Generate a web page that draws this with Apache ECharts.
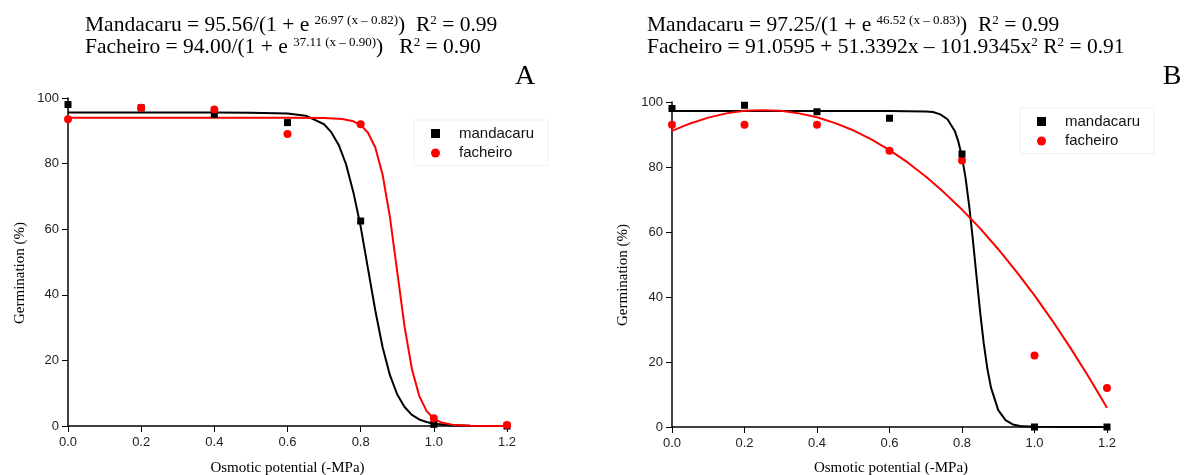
<!DOCTYPE html>
<html>
<head>
<meta charset="utf-8">
<script src="https://cdn.jsdelivr.net/npm/echarts@6/dist/echarts.min.js"></script>
<style>
html,body{margin:0;padding:0;background:#fff;}
#chart{width:1189px;height:475px;}
</style>
</head>
<body>
<div id="chart"></div>
<script>
// ---- observed data points ----
const doseLevels = [0, 0.2, 0.4, 0.6, 0.8, 1.0, 1.2];
const mandacaruA = [98, 97, 95, 92.5, 62.5, 0.5, 0];
const facheiroA = [93.5, 97, 96.5, 89, 92, 2.4, 0.3];
const mandacaruB = [98, 99, 97, 95, 84, 0, 0];
const facheiroB = [93, 93, 93, 85, 82, 22, 12];

// ---- fitted curves ----
const fitMandA_x = [0, 0.1, 0.2, 0.3, 0.4, 0.5, 0.6, 0.65, 0.7, 0.72, 0.74, 0.76, 0.78, 0.8, 0.82, 0.84, 0.86, 0.88, 0.9, 0.92, 0.94, 0.96, 0.98, 1.0, 1.05, 1.1, 1.2];
const fitMandA_y = [95.6, 95.6, 95.6, 95.6, 95.6, 95.5, 95.3, 94.6, 92.0, 89.5, 85.7, 79.8, 71.3, 60.8, 48.0, 35.2, 24.0, 15.5, 9.6, 5.8, 3.4, 2.0, 1.2, 0.7, 0.2, 0.05, 0];
const fitFachA_x = [0, 0.2, 0.4, 0.6, 0.7, 0.75, 0.78, 0.8, 0.82, 0.84, 0.86, 0.88, 0.9, 0.92, 0.94, 0.96, 0.98, 1.0, 1.02, 1.05, 1.1, 1.2];
const fitFachA_y = [94.0, 94.0, 94.0, 94.0, 93.9, 93.6, 92.9, 91.8, 89.4, 84.9, 76.6, 63.7, 47.0, 30.3, 17.4, 9.2, 4.6, 2.2, 1.1, 0.4, 0.1, 0];
const fitMandB_x = [0, 0.2, 0.4, 0.6, 0.7, 0.72, 0.74, 0.76, 0.78, 0.79, 0.8, 0.81, 0.82, 0.83, 0.84, 0.85, 0.86, 0.87, 0.88, 0.9, 0.92, 0.94, 0.96, 1.0, 1.2];
const fitMandB_y = [97.2, 97.2, 97.2, 97.2, 97.1, 96.9, 96.2, 94.7, 91.1, 87.8, 83.1, 76.5, 67.9, 57.6, 46.4, 35.4, 25.7, 17.9, 12.1, 5.2, 2.1, 0.8, 0.3, 0.05, 0];
const fitFachB_x = [0, 0.05, 0.1, 0.15, 0.2, 0.25, 0.3, 0.35, 0.4, 0.45, 0.5, 0.55, 0.6, 0.65, 0.7, 0.75, 0.8, 0.85, 0.9, 0.95, 1.0, 1.05, 1.1, 1.15, 1.2];
const fitFachB_y = [91.1, 93.4, 95.2, 96.5, 97.3, 97.5, 97.3, 96.5, 95.3, 93.5, 91.3, 88.5, 85.2, 81.4, 77.1, 72.2, 66.9, 61.1, 54.7, 47.8, 40.5, 32.6, 24.2, 15.3, 5.9];

// ---- texts ----
const xTickValues = [0, 0.2, 0.4, 0.6, 0.8, 1.0, 1.2];
const yTickValues = [0, 20, 40, 60, 80, 100];
const xAxisTitle = 'Osmotic potential (-MPa)';
const yAxisTitle = 'Germination (%)';
const eqA = '{n|Mandacaru = 95.56/(1 + e }{s|26.97 (x – 0.82)}{n|)  R}{s|2}{n| = 0.99}\n{n|Facheiro = 94.00/(1 + e }{s|37.11 (x – 0.90)}{n|)   R}{s|2}{n| = 0.90}';
const eqB = '{n|Mandacaru = 97.25/(1 + e }{s|46.52 (x – 0.83)}{n|)  R}{s|2}{n| = 0.99}\n{n|Facheiro = 91.0595 + 51.3392x – 101.9345x}{s|2}{n| R}{s|2}{n| = 0.91}';
const panelLabels = ['A', 'B'];
const seriesNames = ['mandacaru', 'facheiro'];

const zip = (xs, ys) => xs.map((x, i) => [x, ys[i]]);

const SERIF = '"Liberation Serif", "Times New Roman", serif';
const SANS = '"Liberation Sans", Arial, sans-serif';
const BLACK = '#000000';
const RED = '#ff0000';

const richEq = {
  n: { fontFamily: SERIF, fontSize: 21.5, fontWeight: 'normal', lineHeight: 22, color: '#000', verticalAlign: 'middle' },
  s: { fontFamily: SERIF, fontSize: 13, fontWeight: 'normal', lineHeight: 11, color: '#000', verticalAlign: 'top' }
};

function xAxisCfg(gi) {
  return {
    gridIndex: gi, type: 'value', min: 0, max: 1.2, interval: 0.2,
    axisLine: { show: true, onZero: false, lineStyle: { color: '#000', width: 1.5 } },
    axisTick: { show: true, length: 6, lineStyle: { color: '#000', width: 1 } },
    axisLabel: { margin: 10, color: '#222', fontFamily: SANS, fontSize: 13,
      formatter: v => xTickValues.some(t => Math.abs(t - v) < 1e-6) ? v.toFixed(1) : '' },
    splitLine: { show: false }
  };
}
function yAxisCfg(gi) {
  return {
    gridIndex: gi, type: 'value', min: 0, max: 100, interval: 20,
    axisLine: { show: true, onZero: false, lineStyle: { color: '#000', width: 1.5 } },
    axisTick: { show: true, length: 6, lineStyle: { color: '#000', width: 1 } },
    axisLabel: { margin: 9, color: '#222', fontFamily: SANS, fontSize: 13,
      formatter: v => yTickValues.includes(v) ? String(v) : '' },
    splitLine: { show: false }
  };
}
function lineSeries(name, gi, data, color) {
  return { name, type: 'line', xAxisIndex: gi, yAxisIndex: gi, data, showSymbol: false,
    smooth: false, lineStyle: { color, width: 2, opacity: 1 }, itemStyle: { color, opacity: 1 },
    emphasis: { disabled: true }, z: 2, silent: true };
}
function scatterSeries(name, gi, data, color, symbol, size, z) {
  return { name, type: 'scatter', xAxisIndex: gi, yAxisIndex: gi, data, symbol, symbolSize: size,
    itemStyle: { color, opacity: 1 }, emphasis: { disabled: true }, z, silent: true };
}
function legendCfg(left, top) {
  return {
    orient: 'vertical', left, top,
    data: [{ name: seriesNames[0], icon: 'rect' }, { name: seriesNames[1], icon: 'circle' }],
    itemWidth: 9, itemHeight: 9, itemGap: 4.5,
    borderColor: '#f0f0f0', borderWidth: 1, padding: [6, 14, 5, 17],
    textStyle: { fontFamily: SANS, fontSize: 15, color: '#111', padding: [0, 0, 0, 14] },
    selectedMode: false
  };
}

const option = {
  animation: false,
  backgroundColor: '#ffffff',
  title: [
    { text: eqA, left: 85, top: 14, padding: 0, textStyle: { fontWeight: 'normal', rich: richEq } },
    { text: eqB, left: 647, top: 14, padding: 0, textStyle: { fontWeight: 'normal', rich: richEq } }
  ],
  grid: [
    { left: 68, top: 98, width: 439, height: 328 },
    { left: 672, top: 102, width: 435, height: 325 }
  ],
  xAxis: [xAxisCfg(0), xAxisCfg(1)],
  yAxis: [yAxisCfg(0), yAxisCfg(1)],
  legend: [legendCfg(414, 120), legendCfg(1020, 108)],
  graphic: [
    { type: 'text', x: 525, y: 77, style: { text: panelLabels[0], font: '28px ' + SERIF, fill: '#000', textAlign: 'center', textVerticalAlign: 'middle' } },
    { type: 'text', x: 1172, y: 77, style: { text: panelLabels[1], font: '28px ' + SERIF, fill: '#000', textAlign: 'center', textVerticalAlign: 'middle' } },
    { type: 'text', x: 287.5, y: 468, style: { text: xAxisTitle, font: '15px ' + SERIF, fill: '#000', textAlign: 'center', textVerticalAlign: 'middle' } },
    { type: 'text', x: 891, y: 468, style: { text: xAxisTitle, font: '15px ' + SERIF, fill: '#000', textAlign: 'center', textVerticalAlign: 'middle' } },
    { type: 'text', x: 20, y: 273, rotation: Math.PI / 2, style: { text: yAxisTitle, font: '15px ' + SERIF, fill: '#000', textAlign: 'center', textVerticalAlign: 'middle' } },
    { type: 'text', x: 623, y: 275, rotation: Math.PI / 2, style: { text: yAxisTitle, font: '15px ' + SERIF, fill: '#000', textAlign: 'center', textVerticalAlign: 'middle' } }
  ],
  series: [
    scatterSeries(seriesNames[0], 0, zip(doseLevels, mandacaruA), BLACK, 'rect', 7, 3),
    scatterSeries(seriesNames[1], 0, zip(doseLevels, facheiroA), RED, 'circle', 8, 4),
    lineSeries(seriesNames[0], 0, zip(fitMandA_x, fitMandA_y), BLACK),
    lineSeries(seriesNames[1], 0, zip(fitFachA_x, fitFachA_y), RED),
    scatterSeries(seriesNames[1], 1, zip(doseLevels, facheiroB), RED, 'circle', 8, 3),
    scatterSeries(seriesNames[0], 1, zip(doseLevels, mandacaruB), BLACK, 'rect', 7, 4),
    lineSeries(seriesNames[0], 1, zip(fitMandB_x, fitMandB_y), BLACK),
    lineSeries(seriesNames[1], 1, zip(fitFachB_x, fitFachB_y), RED)
  ]
};

const chart = echarts.init(document.getElementById('chart'), null, { renderer: 'canvas' });
chart.setOption(option);
</script>
</body>
</html>
